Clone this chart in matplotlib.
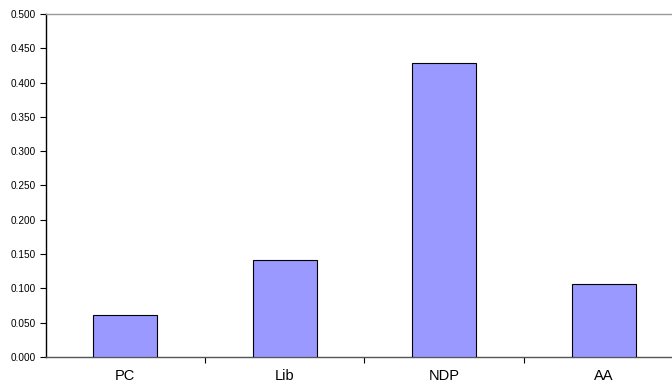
import matplotlib
matplotlib.use("Agg")
import matplotlib.pyplot as plt
import numpy as np

categories = ["PC", "Lib", "NDP", "AA"]
values = [0.061, 0.142, 0.429, 0.106]
yticks = [0.0, 0.05, 0.10, 0.15, 0.20, 0.25, 0.30, 0.35, 0.40, 0.45, 0.50]

plt.rcParams['font.family'] = ['Liberation Sans', 'DejaVu Sans']

W, H = 672, 386
fig = plt.figure(figsize=(W / 100, H / 100), dpi=100)
left, right, top, bottom = 45.5, 683.5, 14, 357
ax = fig.add_axes([left / W, 1 - bottom / H, (right - left) / W, (bottom - top) / H])

x = np.arange(len(categories)) + 0.5
ax.bar(x, values, width=0.40, color="#9999FF", edgecolor="#000000", linewidth=0.8, zorder=3)

ax.set_xlim(0, len(categories))
ax.set_ylim(0, 0.5)
ax.set_yticks(yticks)
ax.set_yticklabels([f"{v:.3f}" for v in yticks], fontsize=7.2)
ax.set_xticks(np.arange(1, len(categories)))
ax.set_xticklabels([])
ax.set_xticks(x, minor=True)
ax.set_xticklabels(categories, minor=True, fontsize=10.5)
ax.tick_params(axis='x', which='minor', length=0, pad=9)
ax.tick_params(axis='x', which='major', length=4, width=0.8, color='#000000', direction='out')
ax.tick_params(axis='y', length=4, width=0.8, direction='out', pad=3)

ax.spines['left'].set_color('#000000')
ax.spines['left'].set_linewidth(1.0)
ax.spines['bottom'].set_color('#555555')
ax.spines['bottom'].set_linewidth(1.0)
ax.spines['top'].set_color('#999999')
ax.spines['top'].set_linewidth(1.0)
ax.spines['right'].set_visible(False)

fig.savefig("out.png", dpi=100)
